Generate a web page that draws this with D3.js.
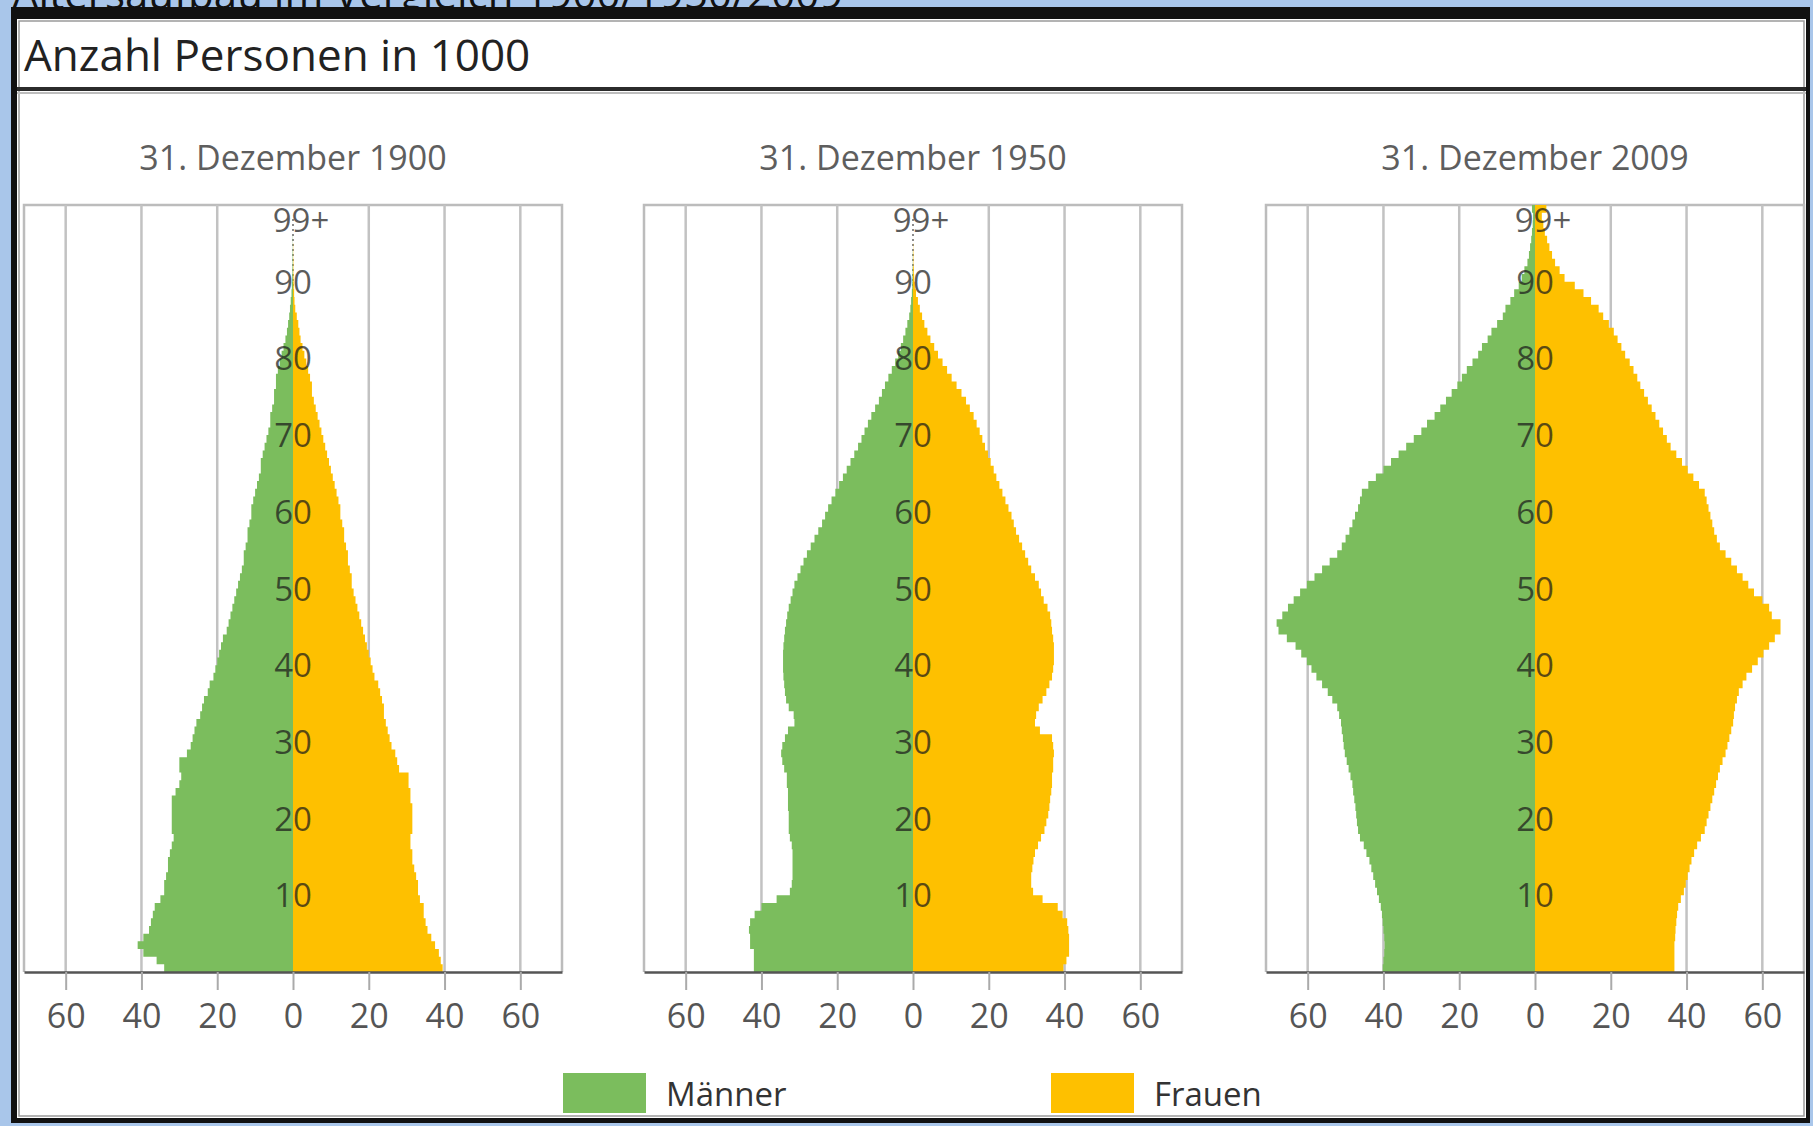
<!DOCTYPE html>
<html>
<head>
<meta charset="utf-8">
<script src="https://cdn.jsdelivr.net/npm/d3@7"></script>
<style>
  html, body { margin: 0; padding: 0; background: #a9c6ea; }
  svg { display: block; }
  text { font-family: "Open Sans", "DejaVu Sans", sans-serif; }
</style>
</head>
<body>
<svg id="chart" width="1813" height="1126"></svg>
<script>
// ---------------- DATA ----------------
const panelTitles = ["31. Dezember 1900", "31. Dezember 1950", "31. Dezember 2009"];
const seriesNames = ["Männer", "Frauen"];
const xTickValues = [-60, -40, -20, 0, 20, 40, 60];
const ageTickValues = [10, 20, 30, 40, 50, 60, 70, 80, 90, 98];
const ageTickLabels = ["10", "20", "30", "40", "50", "60", "70", "80", "90", "99+"];

// Persons in 1000 per single year of age, ages 0 ... 98, 99+
const men1900 = [
  34, 36, 39.5, 41, 39.5, 38, 37.5, 37, 36.5, 35,
  34, 34, 33.5, 33, 33, 32.5, 32, 31.5, 32, 32,
  32, 32, 32, 31, 30, 29.5, 30, 30, 28, 27,
  26.5, 26, 25.5, 24.5, 24, 23.5, 22.5, 22, 21, 20.5,
  20, 19.5, 19, 18.5, 17.5, 17, 16.5, 16, 15.5, 15,
  14.5, 14, 13.5, 13, 13, 12.5, 12, 12, 11.5, 11,
  11, 10.5, 10, 9.5, 9, 8.5, 8.5, 8, 7.5, 7,
  6.5, 6, 6, 5.5, 5, 5, 4.5, 4.5, 4, 3.5,
  3, 2.5, 2, 1.6, 1.3, 1, 0.8, 0.6, 0.4, 0.3,
  0.2, 0.15, 0.1, 0.1, 0.05, 0.05, 0, 0, 0, 0
];
const women1900 = [
  39.5, 39, 38.5, 37.5, 36.5, 35.5, 35, 34.5, 34.5, 33.5,
  33, 33, 32.5, 32, 31.5, 31.5, 31, 31, 31.5, 31.5,
  31.5, 31.5, 31, 31, 30.5, 30.5, 28, 27.5, 27, 26,
  25.5, 25, 24.5, 24, 24, 23.5, 23, 22.5, 21.5, 21,
  20.5, 20, 19.5, 19, 18.5, 18, 17.5, 17, 16.5, 16,
  15.5, 15.5, 15, 14.5, 14.5, 14, 13.5, 13.5, 13, 12.5,
  12.5, 12, 11.5, 11, 10.5, 10, 9.5, 9, 8.5, 8,
  7.5, 7, 6.5, 6, 5.5, 5, 5, 4.5, 4, 3.5,
  3, 2.5, 2, 1.7, 1.4, 1, 0.6, 0.4, 0.3, 0.2,
  0.15, 0.1, 0.1, 0.05, 0.05, 0, 0, 0, 0, 0
];
const men1950 = [
  42, 42, 42, 43, 43, 43.3, 43, 41.8, 40, 36,
  32.5, 32, 31.8, 31.8, 31.8, 31.8, 32, 32.5, 32.8, 32.8,
  32.8, 33, 33, 33, 33.3, 33.3, 34, 34.5, 34.8, 34.5,
  33.8, 33, 31.3, 31.5, 32.8, 33.5, 33.8, 34, 34.2, 34.3,
  34.3, 34.3, 34.2, 34, 33.8, 33.5, 33.2, 32.8, 32.3, 31.8,
  31.3, 30.5, 29.7, 28.9, 28, 27, 26, 25, 24, 23.2,
  22.4, 21.5, 20.5, 19.5, 18.5, 17.5, 16.5, 15.5, 14.5, 13.6,
  12.8, 11.9, 11, 10, 9, 8.2, 7.4, 6.5, 5.6, 4.7,
  3.9, 3.2, 2.6, 2, 1.5, 1, 0.7, 0.5, 0.3, 0.2,
  0.15, 0.1, 0.05, 0.05, 0, 0, 0, 0, 0, 0
];
const women1950 = [
  39.7, 40.5, 41.2, 41.2, 41.2, 41, 40.7, 39.5, 38.2, 34.2,
  31.7, 31.2, 31.2, 31.5, 31.8, 32.2, 33, 33.8, 34.7, 35.2,
  35.7, 36, 36.2, 36.5, 36.7, 36.7, 37, 37, 37.2, 37,
  36.7, 33.5, 32.2, 32.5, 33.2, 34.2, 35.2, 36, 36.7, 37,
  37.2, 37.2, 37.2, 37, 36.7, 36.5, 36.2, 35.5, 34.5, 33.8,
  33.2, 32.2, 31.2, 30.4, 29.6, 28.8, 28, 27.2, 26.6, 26,
  25.2, 24.4, 23.6, 22.8, 22, 21.3, 20.5, 19.8, 19, 18.3,
  17.6, 16.8, 16, 15, 14, 12.8, 11.5, 10.2, 9, 7.8,
  6.6, 5.6, 4.6, 3.8, 3, 2.4, 1.8, 1.3, 0.8, 0.5,
  0.3, 0.2, 0.1, 0.1, 0.05, 0, 0, 0, 0, 0
];
const men2009 = [
  40.2, 40, 39.8, 39.7, 39.8, 40, 40.2, 40.4, 40.7, 41.2,
  41.7, 42.2, 42.7, 43.2, 43.7, 44.5, 45.2, 46.2, 46.7, 47,
  47.2, 47.4, 47.7, 48, 48.2, 48.7, 49.2, 49.7, 50.2, 50.5,
  50.7, 51, 51.2, 51.7, 52.2, 53.5, 54.7, 56.2, 57.7, 59,
  60.2, 61.7, 63.2, 65.5, 67.7, 68.2, 66.7, 65.2, 63.7, 62,
  60.2, 58.2, 56.2, 54.2, 52.2, 51, 50, 49, 48.2, 47.5,
  46.7, 46.2, 45.7, 44, 42, 40, 38, 36, 34, 32,
  30, 28.5, 26.5, 25, 23.5, 22, 20.5, 19.3, 18, 16.5,
  15, 14, 12.5, 11.5, 10, 8.5, 7.8, 6.5, 5.5, 4.3,
  3.5, 2.8, 2, 1.6, 1.3, 1, 0.8, 0.6, 0.5, 0.8
];
const women2009 = [
  36.8, 36.8, 36.8, 36.8, 37, 37.1, 37.3, 37.5, 37.8, 38.5,
  39.3, 39.8, 40.3, 40.8, 41.3, 42, 42.8, 43.8, 44.8, 45.3,
  45.8, 46.3, 46.8, 47.3, 47.8, 48.3, 48.8, 49.5, 50.3, 50.8,
  51.3, 51.8, 52.3, 52.5, 52.8, 53.3, 53.8, 54.8, 55.8, 57.3,
  58.8, 60.3, 61.8, 63.3, 64.8, 64.8, 62.5, 61.8, 60, 57.8,
  56.3, 54.8, 53.3, 51.8, 50.3, 48.8, 48, 47.3, 46.8, 46.3,
  45.8, 45.3, 44.8, 43.3, 41.8, 40.3, 38.8, 37.3, 35.8, 34.8,
  33.8, 32.8, 31.8, 30.8, 29.8, 28.8, 27.8, 27, 26, 25,
  23.8, 22.8, 21.8, 20.8, 19.5, 18, 16.8, 14.8, 12.8, 10.5,
  7.8, 6.5, 5.3, 4.5, 3.8, 3.2, 2.6, 2.2, 1.8, 3
];
const menSeries = [men1900, men1950, men2009];
const womenSeries = [women1900, women1950, women2009];

// ---------------- LAYOUT ----------------
const W = 1813, H = 1126;
const colors = { men: "#7bbd5d", women: "#fec000" };
const panelCenters = [293, 913, 1535];
const halfWidth = 269;
const xDomainMax = 71;
const plotTop = 205, plotBottom = 972;

const svg = d3.select("#chart");

// outer frame
svg.append("rect").attr("x", 0).attr("y", 0).attr("width", W).attr("height", H).attr("fill", "#a9c6ea");
svg.append("text").attr("x", 12).attr("y", 9).attr("font-size", 42).attr("fill", "#111")
  .text("Altersaufbau im Vergleich 1900/1950/2009");
svg.append("rect").attr("x", 11).attr("y", 7).attr("width", 1799).attr("height", 1116).attr("fill", "#111");
svg.append("rect").attr("x", 17).attr("y", 19).attr("width", 1789).attr("height", 1099).attr("fill", "#fff");
svg.append("rect").attr("x", 19).attr("y", 21).attr("width", 1785).attr("height", 1095)
  .attr("fill", "none").attr("stroke", "#9a9a9a").attr("stroke-width", 1.5);

// title + rule
svg.append("text").attr("x", 24).attr("y", 71).attr("font-size", 44).attr("fill", "#222")
  .text("Anzahl Personen in 1000");
svg.append("line").attr("x1", 17).attr("x2", 1806).attr("y1", 89).attr("y2", 89)
  .attr("stroke", "#2b2b2b").attr("stroke-width", 4);
svg.append("line").attr("x1", 17).attr("x2", 1806).attr("y1", 93).attr("y2", 93)
  .attr("stroke", "#bdbdbd").attr("stroke-width", 2);

const y = d3.scaleLinear().domain([0, 100]).range([plotBottom, plotTop]);

panelCenters.forEach((cx, i) => {
  const x = d3.scaleLinear().domain([-xDomainMax, xDomainMax]).range([cx - halfWidth, cx + halfWidth]);
  const g = svg.append("g");

  // subtitle
  g.append("text").attr("x", x(0)).attr("y", 170).attr("text-anchor", "middle")
    .attr("font-size", 34).attr("fill", "#5e5e5e").text(panelTitles[i]);

  // panel frame (top + sides)
  g.append("path")
    .attr("d", `M${x(-xDomainMax)},${plotBottom}V${plotTop}H${x(xDomainMax)}V${plotBottom}`)
    .attr("fill", "none").attr("stroke", "#bcbcbc").attr("stroke-width", 2.5);

  // vertical grid
  g.selectAll(".grid").data(xTickValues.filter(v => v !== 0)).join("line")
    .attr("x1", d => x(d)).attr("x2", d => x(d))
    .attr("y1", plotTop).attr("y2", plotBottom)
    .attr("stroke", "#c2c2c2").attr("stroke-width", 2.5);

  // zero line (dotted)
  g.append("line").attr("x1", x(0)).attr("x2", x(0)).attr("y1", plotTop + 14).attr("y2", plotBottom)
    .attr("stroke", "#666").attr("stroke-width", 1.5).attr("stroke-dasharray", "2,3");

  // areas
  const build = (arr, sign) => {
    const pts = arr.map((v, a) => ({ age: a, v: sign * v }));
    pts.push({ age: arr.length, v: sign * arr[arr.length - 1] });
    return pts;
  };
  const area = d3.area()
    .y(d => y(d.age))
    .x0(x(0))
    .x1(d => x(d.v))
    .curve(d3.curveStepBefore);

  g.append("path").datum(build(menSeries[i], -1)).attr("d", area).attr("fill", colors.men);
  g.append("path").datum(build(womenSeries[i], 1)).attr("d", area).attr("fill", colors.women);

  // age labels
  g.selectAll(".age").data(ageTickValues).join("text")
    .attr("x", (d, k) => x(0) + (ageTickLabels[k] === "99+" ? 8 : 0))
    .attr("y", d => y(d) + 12)
    .attr("text-anchor", "middle")
    .attr("font-size", 33)
    .attr("fill", "#1b1b1b")
    .attr("fill-opacity", 0.72)
    .text((d, k) => ageTickLabels[k]);

  // x axis
  const axis = d3.axisBottom(x).tickValues(xTickValues).tickFormat(d => Math.abs(d))
    .tickSize(18).tickSizeOuter(0).tickPadding(14);
  const ax = g.append("g").attr("transform", `translate(0,${plotBottom})`).call(axis);
  ax.select(".domain").attr("stroke", "#555").attr("stroke-width", 2.5);
  ax.selectAll(".tick line").attr("stroke", "#aaa").attr("stroke-width", 2);
  ax.selectAll(".tick text").attr("font-size", 34).attr("fill", "#555")
    .attr("font-family", '"Open Sans", sans-serif');
});

// legend
const legend = svg.append("g");
const legendItems = [
  { name: seriesNames[0], color: colors.men, x: 563 },
  { name: seriesNames[1], color: colors.women, x: 1051 }
];
legendItems.forEach(it => {
  legend.append("rect").attr("x", it.x).attr("y", 1073).attr("width", 83).attr("height", 40).attr("fill", it.color);
  legend.append("text").attr("x", it.x + 103).attr("y", 1106).attr("font-size", 33).attr("fill", "#333").text(it.name);
});
</script>
</body>
</html>
